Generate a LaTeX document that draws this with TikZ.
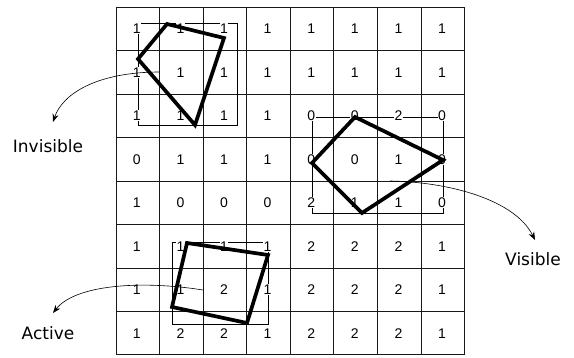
\documentclass[tikz,border=0pt]{standalone}
\usepackage{fontspec}
\setmainfont{Liberation Sans}
\newfontfamily\labelfont{DejaVu Sans}
\usetikzlibrary{arrows.meta}
\begin{document}
\begin{tikzpicture}[x=1pt,y=-1pt,
  gridline/.style={line width=1.2pt, black!90},
  num/.style={font=\fontsize{14}{14}\selectfont, fill=white, inner sep=0.6pt},
  bbox/.style={line width=0.7pt},
  poly/.style={line width=3.7pt},
  pointer/.style={line width=0.6pt, -{Stealth[length=8pt,width=6pt]}},
  lab/.style={font=\labelfont\fontsize{17}{17}\selectfont, inner sep=0pt}]
\useasboundingbox[fill=white] (0,0) rectangle (574,358);
% grid
\foreach \gx in {116.5,159.5,203.5,246.5,290.5,333.5,377.5,421.5,464.5}
  \draw[gridline] (\gx,7) -- (\gx,355);
\foreach \gy in {7.5,50.5,94.5,137.5,181.5,224.5,268.5,311.5,354.5}
  \draw[gridline] (116,\gy) -- (465,\gy);
% bounding rectangles
\draw[bbox] (138,23) rectangle (237,125);
\draw[bbox] (312,117) rectangle (443,213);
\draw[bbox] (172,242) rectangle (268,324);
% numbers
\foreach \row [count=\r] in {
  {1,1,1,1,1,1,1,1},
  {1,1,1,1,1,1,1,1},
  {1,1,1,1,0,0,2,0},
  {0,1,1,1,0,0,1,0},
  {1,0,0,0,2,1,1,0},
  {1,1,1,1,2,2,2,1},
  {1,1,2,1,2,2,2,1},
  {1,2,2,1,2,2,2,1}} {
  \foreach \v [count=\c] in \row {
    \node[num] (n\r-\c) at ({116+(\c-0.5)*43.6-1},{7+(\r-0.5)*43.5}) {\v};
  }
}
% polygons
\coordinate (a1) at (167,24);
\coordinate (a2) at (224,38);
\coordinate (a3) at (195,125);
\coordinate (a4) at (138,59);
\coordinate (b1) at (355,117);
\coordinate (b2) at (443,160);
\coordinate (b3) at (362,213);
\coordinate (b4) at (312,163);
\coordinate (c1) at (187,243);
\coordinate (c2) at (268,255);
\coordinate (c3) at (247,323);
\coordinate (c4) at (172,307);
\draw[poly] (a1) -- (a2) -- (a3) -- (a4) -- cycle;
\draw[poly] (b1) -- (b2) -- (b3) -- (b4) -- cycle;
\draw[poly] (c1) -- (c2) -- (c3) -- (c4) -- cycle;
% labels and pointers
\node[lab] (inv) at (48,146) {Invisible};
\node[lab] (vis) at (533,259) {Visible};
\node[lab] (act) at (48,333) {Active};
\coordinate (invS) at (160,72);
\coordinate (invT) at (53,122);
\coordinate (visS) at (390,181);
\coordinate (visT) at (535,240);
\coordinate (actS) at (203,290);
\coordinate (actT) at (53,313);
\draw[pointer] (invS) .. controls (95,72) and (62,95) .. (invT);
\draw[pointer] (visS) .. controls (450,182) and (515,200) .. (visT);
\draw[pointer] (actS) .. controls (140,280) and (75,285) .. (actT);
\end{tikzpicture}
\end{document}
